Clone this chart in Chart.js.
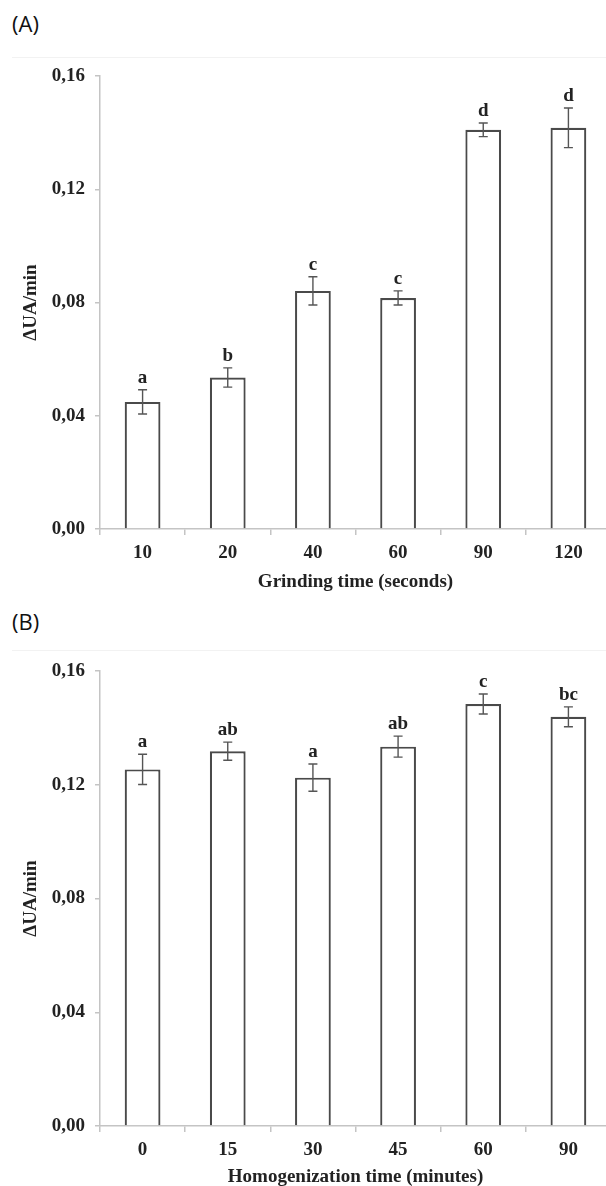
<!DOCTYPE html>
<html>
<head>
<meta charset="utf-8">
<script src="https://cdn.jsdelivr.net/npm/chart.js@4.4.1/dist/chart.umd.min.js"></script>
<style>
  html, body { margin: 0; padding: 0; background: #fff; }
  body { width: 606px; height: 1186px; position: relative; overflow: hidden; }
  .panel-label { position: absolute; left: 12px; font: 22px "Open Sans", sans-serif; color: #111; line-height: 1; }
  .frame-line { position: absolute; left: 12px; right: 0; height: 1px; background: #f2f2f2; }
  canvas { position: absolute; left: 0; }
</style>
</head>
<body>
<div class="panel-label" style="top:12px">(A)</div>
<div class="frame-line" style="top:57px"></div>
<canvas id="chartA" width="640" height="600" style="top:0"></canvas>

<div class="panel-label" style="top:610px">(B)</div>
<div class="frame-line" style="top:650px"></div>
<canvas id="chartB" width="640" height="590" style="top:600px"></canvas>

<script>
// ---- data ----
const grindLabels = ['10', '20', '40', '60', '90', '120'];
const grindMeans = [0.0449, 0.0535, 0.0841, 0.0816, 0.1410, 0.1417];
const grindErr = [0.0043, 0.0034, 0.0050, 0.0025, 0.0024, 0.0070];
const grindLetters = ['a', 'b', 'c', 'c', 'd', 'd'];

const homogLabels = ['0', '15', '30', '45', '60', '90'];
const homogMeans = [0.1254, 0.1318, 0.1225, 0.1334, 0.1484, 0.1439];
const homogErr = [0.0053, 0.0032, 0.0048, 0.0037, 0.0035, 0.0035];
const homogLetters = ['a', 'ab', 'a', 'ab', 'c', 'bc'];

const yTicks = [0, 0.04, 0.08, 0.12, 0.16];

const SERIF = '"Liberation Serif", "Times New Roman", serif';
const AXIS_GRAY = '#c4c4c4';
const INK = '#222';
const FS = 19;

// error bars + significance letters
const errorBars = {
  id: 'errorBars',
  afterDatasetsDraw(chart, args, opts) {
    const { ctx, scales: { y } } = chart;
    const meta = chart.getDatasetMeta(0);
    const data = chart.data.datasets[0].data;
    ctx.save();
    ctx.strokeStyle = '#555';
    ctx.lineWidth = 1.4;
    ctx.fillStyle = INK;
    ctx.font = 'bold ' + FS + 'px ' + SERIF;
    ctx.textAlign = 'center';
    ctx.textBaseline = 'alphabetic';
    meta.data.forEach((bar, i) => {
      const v = data[i], e = opts.errs[i];
      const cx = bar.x;
      const top = y.getPixelForValue(v + e);
      const bot = y.getPixelForValue(v - e);
      ctx.beginPath();
      ctx.moveTo(cx, top); ctx.lineTo(cx, bot);
      ctx.moveTo(cx - 4.5, top); ctx.lineTo(cx + 4.5, top);
      ctx.moveTo(cx - 4.5, bot); ctx.lineTo(cx + 4.5, bot);
      ctx.stroke();
      ctx.fillText(opts.letters[i], cx, top - 7);
    });
    ctx.restore();
  }
};

function makeChart(id, labels, means, errs, letters, xTitle, cfg) {
  const font = { family: SERIF, size: FS, weight: 'bold' };
  return new Chart(document.getElementById(id), {
    type: 'bar',
    data: {
      labels: labels,
      datasets: [{
        data: means,
        backgroundColor: '#fff',
        borderColor: '#4a4a4a',
        borderWidth: 2.2,
        categoryPercentage: 1,
        barPercentage: 0.42
      }]
    },
    options: {
      responsive: false,
      animation: false,
      layout: { padding: { top: cfg.top, right: 29, bottom: 0, left: 0 } },
      plugins: {
        legend: { display: false },
        tooltip: { enabled: false },
        errorBars: { errs: errs, letters: letters }
      },
      scales: {
        x: {
          grid: { display: true, drawOnChartArea: false, drawTicks: true, tickLength: 6, color: AXIS_GRAY, lineWidth: 1.5 },
          border: { display: true, color: AXIS_GRAY, width: 1.5 },
          ticks: { color: INK, font: font, padding: 6.6, maxRotation: 0 },
          title: { display: true, text: xTitle, color: INK, font: font, padding: { top: 0, bottom: cfg.xTitlePad } },
          afterFit: s => { s.height = cfg.xHeight; }
        },
        y: {
          min: 0,
          max: 0.16,
          afterBuildTicks: s => { s.ticks = yTicks.map(v => ({ value: v })); },
          grid: { display: true, drawOnChartArea: false, drawTicks: true, tickLength: 5, color: AXIS_GRAY, lineWidth: 1.5 },
          border: { display: true, color: AXIS_GRAY, width: 1.5 },
          ticks: {
            color: INK,
            font: font,
            padding: 10,
            callback: v => v.toFixed(2).replace('.', ',')
          },
          title: { display: true, text: 'ΔUA/min', color: INK, font: font, padding: { top: 19.6, bottom: 0 } },
          afterFit: s => { s.width = 100; }
        }
      }
    },
    plugins: [errorBars]
  });
}

makeChart('chartA', grindLabels, grindMeans, grindErr, grindLetters, 'Grinding time (seconds)',
  { top: 76, xHeight: 71, xTitlePad: 6.6 });
makeChart('chartB', homogLabels, homogMeans, homogErr, homogLetters, 'Homogenization time (minutes)',
  { top: 71, xHeight: 64, xTitlePad: 1.6 });
</script>
</body>
</html>
